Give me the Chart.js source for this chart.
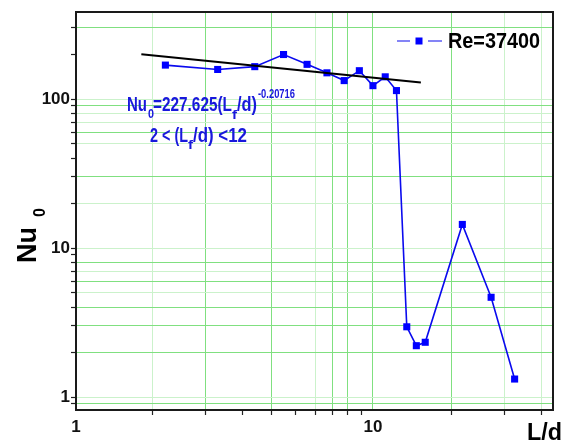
<!DOCTYPE html>
<html><head><meta charset="utf-8">
<script src="https://cdn.jsdelivr.net/npm/chart.js@4.4.1/dist/chart.umd.min.js"></script>
<style>html,body{margin:0;padding:0;background:#fff;overflow:hidden}#wrap{width:566px;height:441px;position:relative}</style>
</head><body><div id="wrap"><canvas id="c" width="566" height="441"></canvas></div>
<script>
// ---- data ----
const lengthRatio = [2,3,4,5,6,7,8,9,10,11,12,13,14,15,20,25,30];
const nusselt = [169,158,165,199,171,150,133,155,123,141,114,2.96,2.21,2.33,14.4,4.67,1.32];
const fitLengthRatio = [1.66, 14.5];
const fitNusselt = [200, 129];
const xLabelTicks = [1, 10];
const xGridTicks = [2,3,4,5,6,7,8,9,10,20,30,40];
const yTicks = [0.9,1,2,3,4,5,6,7,8,9,10,20,30,40,50,60,70,80,90,100,200,300];
const yLabelTicks = [1, 10, 100];
const seriesLabel = 'Re=37400';
const yTitle = 'Nu';
const yTitleSub = '0';
const xTitle = 'L/d';

// ---- styling ----
const STRONG = '#80e080', LIGHT = '#cbf2cb', NONE = 'rgba(0,0,0,0)';
const xStrong = new Set([3,5,8,9,20]), xLight = new Set([2,7,30,40]);
const yStrong = new Set([300,90,60,30,8,6,4,3,2,0.9]), yLight = new Set([100,80,70,50,20,10,7,5,1]);
const BLUE = '#0a0aee', TEXTBLUE = '#1818dc';

function fitText(ctx, text, x, y, font, width, color, rot) {
  ctx.save();
  ctx.font = font;
  const w = ctx.measureText(text).width;
  ctx.translate(x, y);
  if (rot) ctx.rotate(-Math.PI / 2);
  ctx.scale(width / w, 1);
  ctx.fillStyle = color;
  ctx.textBaseline = 'alphabetic';
  ctx.textAlign = 'left';
  ctx.fillText(text, 0, 0);
  ctx.restore();
}

const decor = {
  id: 'decor',
  afterDraw(chart) {
    const ctx = chart.ctx, a = chart.chartArea;
    // frame
    ctx.save();
    ctx.strokeStyle = '#1a1a1a';
    ctx.lineWidth = 2;
    ctx.strokeRect(a.left, a.top, a.right - a.left, a.bottom - a.top);
    ctx.restore();
    const F = '"Liberation Sans", Arial, sans-serif';
    // equation annotation
    fitText(ctx, 'Nu', 127, 111, 'bold 21px ' + F, 20, TEXTBLUE);
    fitText(ctx, '0', 148, 118, 'bold 13px ' + F, 6, TEXTBLUE);
    fitText(ctx, '=227.625(L', 153, 111, 'bold 21px ' + F, 79, TEXTBLUE);
    fitText(ctx, 'f', 232, 119, 'bold 13px ' + F, 5, TEXTBLUE);
    fitText(ctx, '/d)', 237, 111, 'bold 21px ' + F, 20, TEXTBLUE);
    fitText(ctx, '-0.20716', 258, 98, 'bold 12px ' + F, 37, TEXTBLUE);
    fitText(ctx, '2 < (L', 150, 142, 'bold 21px ' + F, 38, TEXTBLUE);
    fitText(ctx, 'f', 188, 149, 'bold 13px ' + F, 5, TEXTBLUE);
    fitText(ctx, '/d) <12', 193, 142, 'bold 21px ' + F, 54, TEXTBLUE);
    // legend
    ctx.save();
    ctx.strokeStyle = BLUE; ctx.lineWidth = 1.2;
    ctx.beginPath(); ctx.moveTo(397, 41); ctx.lineTo(410, 41); ctx.moveTo(428, 41); ctx.lineTo(442, 41); ctx.stroke();
    ctx.fillStyle = '#0000ff'; ctx.fillRect(415.5, 37.5, 7, 7);
    ctx.restore();
    fitText(ctx, seriesLabel, 448, 48, 'bold 22px ' + F, 92, '#000');
    // axis titles
    fitText(ctx, yTitle, 36, 263, 'bold 27px ' + F, 36, '#000', true);
    fitText(ctx, yTitleSub, 45, 217, 'bold 16px ' + F, 9, '#000', true);
    fitText(ctx, xTitle, 527, 440, 'bold 24px ' + F, 35, '#000');
  }
};

const tickFont = { family: '"Liberation Sans", Arial, sans-serif', size: 17, weight: 'bold' };

new Chart(document.getElementById('c'), {
  type: 'scatter',
  data: {
    datasets: [
      {
        label: seriesLabel,
        data: lengthRatio.map((x, i) => ({ x, y: nusselt[i] })),
        showLine: true,
        borderColor: BLUE,
        borderWidth: 1.6,
        backgroundColor: '#0000ff',
        pointStyle: 'rect',
        pointRadius: 5,
        pointBorderWidth: 0,
        pointHoverRadius: 5,
        xAxisID: 'x', yAxisID: 'y', order: 1
      },
      {
        label: 'fit',
        data: fitLengthRatio.map((x, i) => ({ x, y: fitNusselt[i] })),
        showLine: true,
        borderColor: '#000',
        borderWidth: 2,
        pointRadius: 0,
        xAxisID: 'x', yAxisID: 'y', order: 0
      }
    ]
  },
  options: {
    responsive: false,
    animation: false,
    devicePixelRatio: 1,
    layout: { padding: { top: 12, right: 13, left: 0, bottom: 0 } },
    plugins: { legend: { display: false }, tooltip: { enabled: false } },
    scales: {
      x: {
        type: 'logarithmic', position: 'bottom', weight: 1,
        min: 1, max: 40.4,
        afterBuildTicks: s => { s.ticks = xLabelTicks.map(v => ({ value: v })); },
        afterFit: s => { s.height = 31; },
        border: { display: false },
        grid: { color: c => (c.tick && c.tick.value === 10) ? STRONG : NONE, drawTicks: false, tickLength: 0 },
        ticks: { autoSkip: false, maxRotation: 0, padding: 7, color: '#111', font: tickFont, callback: v => String(v) }
      },
      x2: {
        type: 'logarithmic', position: 'bottom', weight: 0,
        min: 1.105, max: 43.75,
        afterBuildTicks: s => { s.ticks = xGridTicks.map(v => ({ value: v })); },
        afterFit: s => { s.height = 0; },
        border: { display: false },
        grid: {
          color: c => { const v = c.tick ? c.tick.value : 0; return xStrong.has(v) ? STRONG : xLight.has(v) ? LIGHT : NONE; },
          drawTicks: true, tickLength: 5, tickColor: '#222', tickWidth: 1.2
        },
        ticks: { display: false }
      },
      y: {
        type: 'logarithmic', position: 'left',
        min: 0.818, max: 384,
        afterBuildTicks: s => { s.ticks = yTicks.map(v => ({ value: v })); },
        afterFit: s => { s.width = 76; },
        border: { display: false },
        grid: {
          color: c => { const v = c.tick ? c.tick.value : 0; return yStrong.has(v) ? STRONG : yLight.has(v) ? LIGHT : NONE; },
          drawTicks: true, tickLength: 5, tickColor: '#222', tickWidth: 1.2
        },
        ticks: { autoSkip: false, padding: 1, color: '#111', font: tickFont, callback: v => yLabelTicks.includes(v) ? String(v) : '' }
      }
    }
  },
  plugins: [decor]
});
</script>
</body></html>
